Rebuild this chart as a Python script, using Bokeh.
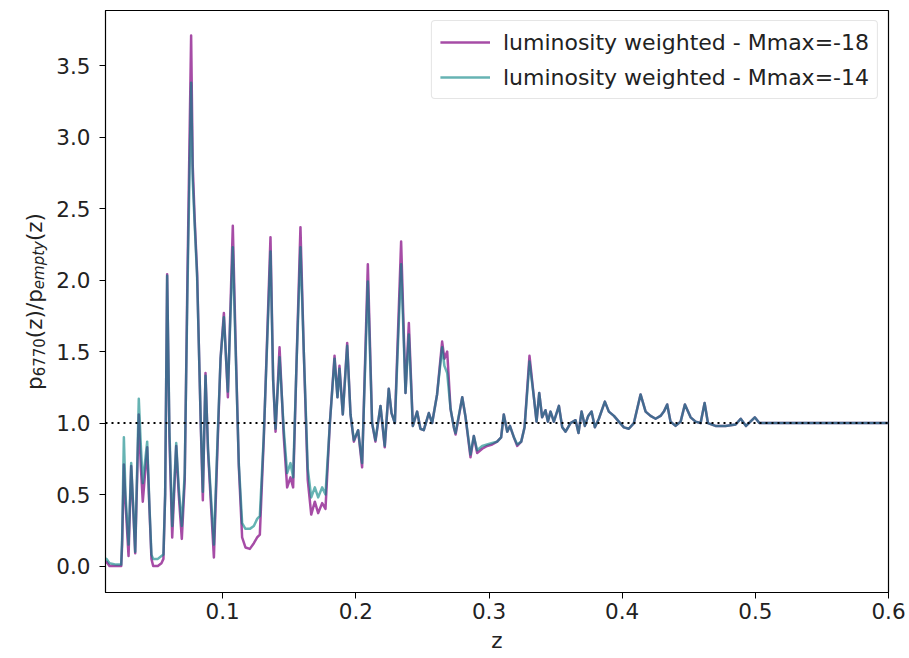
import math
from bokeh.plotting import figure
from bokeh.layouts import row
from bokeh.models import Span, Label, FixedTicker, PrintfTickFormatter, Legend, Range1d
from bokeh.embed import file_html
from bokeh.resources import INLINE

# ---------------- data ----------------
z = [0.0120, 0.0128, 0.0150, 0.0200, 0.0238, 0.0245, 0.0258, 0.0270, 0.0293, 0.0313,
     0.0328, 0.0343, 0.0370, 0.0385, 0.0400, 0.0433, 0.0450, 0.0465, 0.0478, 0.0513,
     0.0540, 0.0555, 0.0568, 0.0583, 0.0600, 0.0621, 0.0651, 0.0670, 0.0693, 0.0715,
     0.0735, 0.0763, 0.0775, 0.0790, 0.0808, 0.0835, 0.0851, 0.0871, 0.0890, 0.0934,
     0.0960, 0.0984, 0.1009, 0.1039, 0.1076, 0.1096, 0.1121, 0.1146, 0.1171, 0.1204,
     0.1234, 0.1259, 0.1279, 0.1309, 0.1359, 0.1379, 0.1397, 0.1427, 0.1459, 0.1484,
     0.1509, 0.1529, 0.1554, 0.1584, 0.1609, 0.1639, 0.1665, 0.1692, 0.1717, 0.1747,
     0.1772, 0.1805, 0.1840, 0.1862, 0.1877, 0.1902, 0.1935, 0.1960, 0.1985, 0.2017,
     0.2047, 0.2090, 0.2122, 0.2147, 0.2185, 0.2217, 0.2247, 0.2268, 0.2293, 0.2340,
     0.2373, 0.2398, 0.2428, 0.2460, 0.2485, 0.2510, 0.2548, 0.2573, 0.2610, 0.2648,
     0.2665, 0.2686, 0.2711, 0.2736, 0.2749, 0.2799, 0.2824, 0.2861, 0.2886, 0.2911,
     0.2949, 0.2986, 0.3024, 0.3061, 0.3091, 0.3111, 0.3137, 0.3157, 0.3187, 0.3212,
     0.3242, 0.3267, 0.3304, 0.3337, 0.3357, 0.3377, 0.3399, 0.3424, 0.3442, 0.3462,
     0.3487, 0.3525, 0.3550, 0.3575, 0.3612, 0.3650, 0.3672, 0.3695, 0.3720, 0.3745,
     0.3770, 0.3795, 0.3825, 0.3870, 0.3900, 0.3938, 0.3975, 0.4013, 0.4050, 0.4088,
     0.4138, 0.4176, 0.4213, 0.4251, 0.4288, 0.4313, 0.4338, 0.4363, 0.4401, 0.4439,
     0.4471, 0.4514, 0.4551, 0.4589, 0.4619, 0.4644, 0.4701, 0.4776, 0.4852, 0.4890,
     0.4930, 0.4996, 0.5030, 0.5500, 0.6000]

ratio_mmax_m18 = [0.02, 0.03, 0.00, 0.00, 0.00, 0.15, 0.71, 0.45, 0.07, 0.70,
                  0.40, 0.09, 1.06, 0.70, 0.45, 0.83, 0.40, 0.05, 0.00, 0.00,
                  0.02, 0.05, 0.50, 2.04, 0.90, 0.20, 0.84, 0.50, 0.19, 0.60,
                  2.00, 3.71, 2.80, 2.42, 2.05, 1.00, 0.46, 1.35, 0.80, 0.06,
                  0.80, 1.45, 1.77, 1.18, 2.38, 1.60, 0.70, 0.20, 0.13, 0.12,
                  0.16, 0.20, 0.22, 0.90, 2.30, 1.30, 0.94, 1.53, 0.90, 0.55,
                  0.62, 0.55, 1.40, 2.37, 1.50, 0.60, 0.36, 0.45, 0.37, 0.44,
                  0.40, 1.00, 1.47, 1.18, 1.40, 1.06, 1.56, 1.06, 0.87, 0.95,
                  0.69, 2.11, 1.00, 0.87, 1.12, 0.83, 1.24, 1.07, 1.00, 2.27,
                  1.21, 1.70, 0.98, 1.08, 0.96, 0.95, 1.07, 1.00, 1.20, 1.57,
                  1.45, 1.50, 1.10, 0.97, 0.92, 1.18, 1.04, 0.76, 0.91, 0.79,
                  0.82, 0.84, 0.85, 0.87, 0.90, 1.06, 0.94, 0.98, 0.90, 0.84,
                  0.87, 0.97, 1.47, 1.18, 1.01, 1.21, 1.04, 1.09, 1.01, 1.08,
                  1.01, 1.12, 0.97, 0.94, 1.00, 1.02, 0.93, 1.08, 0.98, 1.05,
                  1.08, 0.97, 1.03, 1.15, 1.08, 1.05, 1.01, 0.97, 0.96, 1.00,
                  1.20, 1.08, 1.05, 1.03, 1.05, 1.08, 1.13, 1.01, 0.98, 1.01,
                  1.13, 1.04, 1.01, 1.00, 1.14, 1.00, 0.98, 0.98, 0.99, 1.03,
                  0.98, 1.04, 1.00, 1.00, 1.00]

ratio_mmax_m14 = [0.04, 0.05, 0.02, 0.01, 0.01, 0.20, 0.90, 0.50, 0.15, 0.72,
                  0.42, 0.10, 1.17, 0.85, 0.58, 0.87, 0.42, 0.08, 0.05, 0.05,
                  0.07, 0.08, 0.50, 2.03, 0.95, 0.28, 0.86, 0.55, 0.28, 0.65,
                  1.90, 3.38, 2.70, 2.38, 2.02, 1.02, 0.52, 1.33, 0.82, 0.15,
                  0.85, 1.45, 1.74, 1.22, 2.23, 1.55, 0.72, 0.30, 0.26, 0.26,
                  0.28, 0.33, 0.35, 0.92, 2.20, 1.30, 0.96, 1.46, 0.95, 0.65,
                  0.72, 0.62, 1.40, 2.23, 1.50, 0.68, 0.48, 0.55, 0.48, 0.55,
                  0.50, 1.00, 1.45, 1.18, 1.38, 1.06, 1.54, 1.06, 0.88, 0.95,
                  0.72, 1.99, 1.00, 0.88, 1.12, 0.84, 1.24, 1.07, 1.00, 2.11,
                  1.21, 1.62, 0.98, 1.08, 0.96, 0.95, 1.07, 1.00, 1.20, 1.53,
                  1.40, 1.35, 1.10, 0.97, 0.93, 1.18, 1.04, 0.78, 0.91, 0.81,
                  0.84, 0.85, 0.86, 0.87, 0.90, 1.06, 0.94, 0.98, 0.90, 0.85,
                  0.87, 0.97, 1.43, 1.18, 1.01, 1.21, 1.04, 1.09, 1.01, 1.08,
                  1.01, 1.12, 0.97, 0.94, 1.00, 1.02, 0.93, 1.08, 0.98, 1.05,
                  1.08, 0.97, 1.03, 1.15, 1.08, 1.05, 1.01, 0.97, 0.96, 1.00,
                  1.20, 1.08, 1.05, 1.03, 1.05, 1.08, 1.13, 1.01, 0.98, 1.01,
                  1.13, 1.04, 1.01, 1.00, 1.14, 1.00, 0.98, 0.98, 0.99, 1.03,
                  0.98, 1.04, 1.00, 1.00, 1.00]

series_labels = ["luminosity weighted - Mmax=-18", "luminosity weighted - Mmax=-14"]
x_ticks = [0.1, 0.2, 0.3, 0.4, 0.5, 0.6]
y_ticks = [0.0, 0.5, 1.0, 1.5, 2.0, 2.5, 3.0, 3.5]
reference_level = 1.0

# ---------------- layout ----------------
W, H = 909, 658
LW = 50                     # narrow strip holding the y-axis title
FL, FR, FT, FB = 105, 888, 10, 592
X0, X1 = 0.012, 0.6
Y0, Y1 = -0.185, 3.885
FONT = "DejaVu Sans"
FS = "21.5px"
TXT = "#222222"

p = figure(width=W - LW, height=H, x_range=(X0, X1), y_range=(Y0, Y1),
           output_backend="svg", toolbar_location=None,
           min_border_left=FL - LW, min_border_right=W - FR,
           min_border_top=FT, min_border_bottom=H - FB)
p.background_fill_color = "white"
p.border_fill_color = "white"
p.outline_line_color = "black"
p.outline_line_width = 1.2
p.grid.visible = False

r1 = p.line(z, ratio_mmax_m18, line_color="purple", line_alpha=0.7, line_width=2.5,
            line_join="round")
r2 = p.line(z, ratio_mmax_m14, line_color="teal", line_alpha=0.6, line_width=2.5,
            line_join="round")

p.add_layout(Span(location=reference_level, dimension="width", line_color="black",
                  line_dash="2 4", line_width=2))

for ax in (p.xaxis[0], p.yaxis[0]):
    ax.axis_line_color = "black"
    ax.major_tick_line_color = "black"
    ax.major_tick_in = 0
    ax.major_tick_out = 6
    ax.minor_tick_line_color = None
    ax.major_label_text_font = FONT
    ax.major_label_text_font_size = FS
    ax.major_label_text_color = TXT

p.xaxis.ticker = FixedTicker(ticks=x_ticks)
p.yaxis.ticker = FixedTicker(ticks=y_ticks)
p.xaxis.formatter = PrintfTickFormatter(format="%.1f")
p.yaxis.formatter = PrintfTickFormatter(format="%.1f")
p.xaxis.major_label_standoff = 4
p.yaxis.major_label_standoff = 9
p.xaxis.axis_label = "z"
p.xaxis.axis_label_text_font = FONT
p.xaxis.axis_label_text_font_style = "normal"
p.xaxis.axis_label_text_font_size = FS
p.xaxis.axis_label_text_color = TXT
p.xaxis.axis_label_standoff = 6

legend = Legend(items=[(series_labels[0], [r1]), (series_labels[1], [r2])],
                location="top_right")
legend.margin = 10
legend.padding = 8
legend.spacing = 9
legend.glyph_width = 50
legend.glyph_height = 26
legend.label_height = 26
legend.label_standoff = 13
legend.label_text_font = FONT
legend.label_text_font_size = "22px"
legend.label_text_color = TXT
legend.border_line_color = "#cccccc"
legend.border_line_width = 1
legend.background_fill_color = "white"
legend.background_fill_alpha = 0.8
legend.border_radius = 4
p.add_layout(legend)

# ---------------- y-axis title strip (main text + subscripts) ----------------
t = figure(width=LW, height=H, x_range=Range1d(0, LW), y_range=Range1d(0, H),
           x_axis_type=None, y_axis_type=None, output_backend="svg",
           toolbar_location=None, title=None,
           min_border_left=0, min_border_right=0, min_border_top=0, min_border_bottom=0)
t.outline_line_color = None
t.grid.visible = False
t.background_fill_color = "white"
t.border_fill_color = "white"

MAIN, SUB = 21.5, 15.0
pieces = [("p", MAIN, "normal", 0.0), ("6770", SUB, "normal", 4.5),
          ("(z)/p", MAIN, "normal", 0.0), ("empty", SUB, "italic", 4.5),
          ("(z)", MAIN, "normal", 0.0)]
em = {"p": 0.635, "6770": 2.544, "(z)/p": 2.277, "empty": 3.208, "(z)": 1.305}
total = sum(em[s] * fs for s, fs, _, _ in pieces)
base_x = 34                      # baseline position (px from left of strip)
anchor_x, anchor_y = LW / 2, H / 2
offset = -total / 2              # distance (upwards) from the vertical centre
for s, fs, st, dx in pieces:
    t.add_layout(Label(x=anchor_x, y=anchor_y,
                       x_offset=(base_x - LW / 2) + dx, y_offset=offset,
                       text=s, angle=math.pi / 2,
                       text_font=FONT, text_font_size=f"{fs}px", text_font_style=st,
                       text_align="left", text_baseline="alphabetic",
                       text_color=TXT))
    offset += em[s] * fs

layout = row(t, p)
open("out.html", "w").write(file_html(layout, INLINE))
